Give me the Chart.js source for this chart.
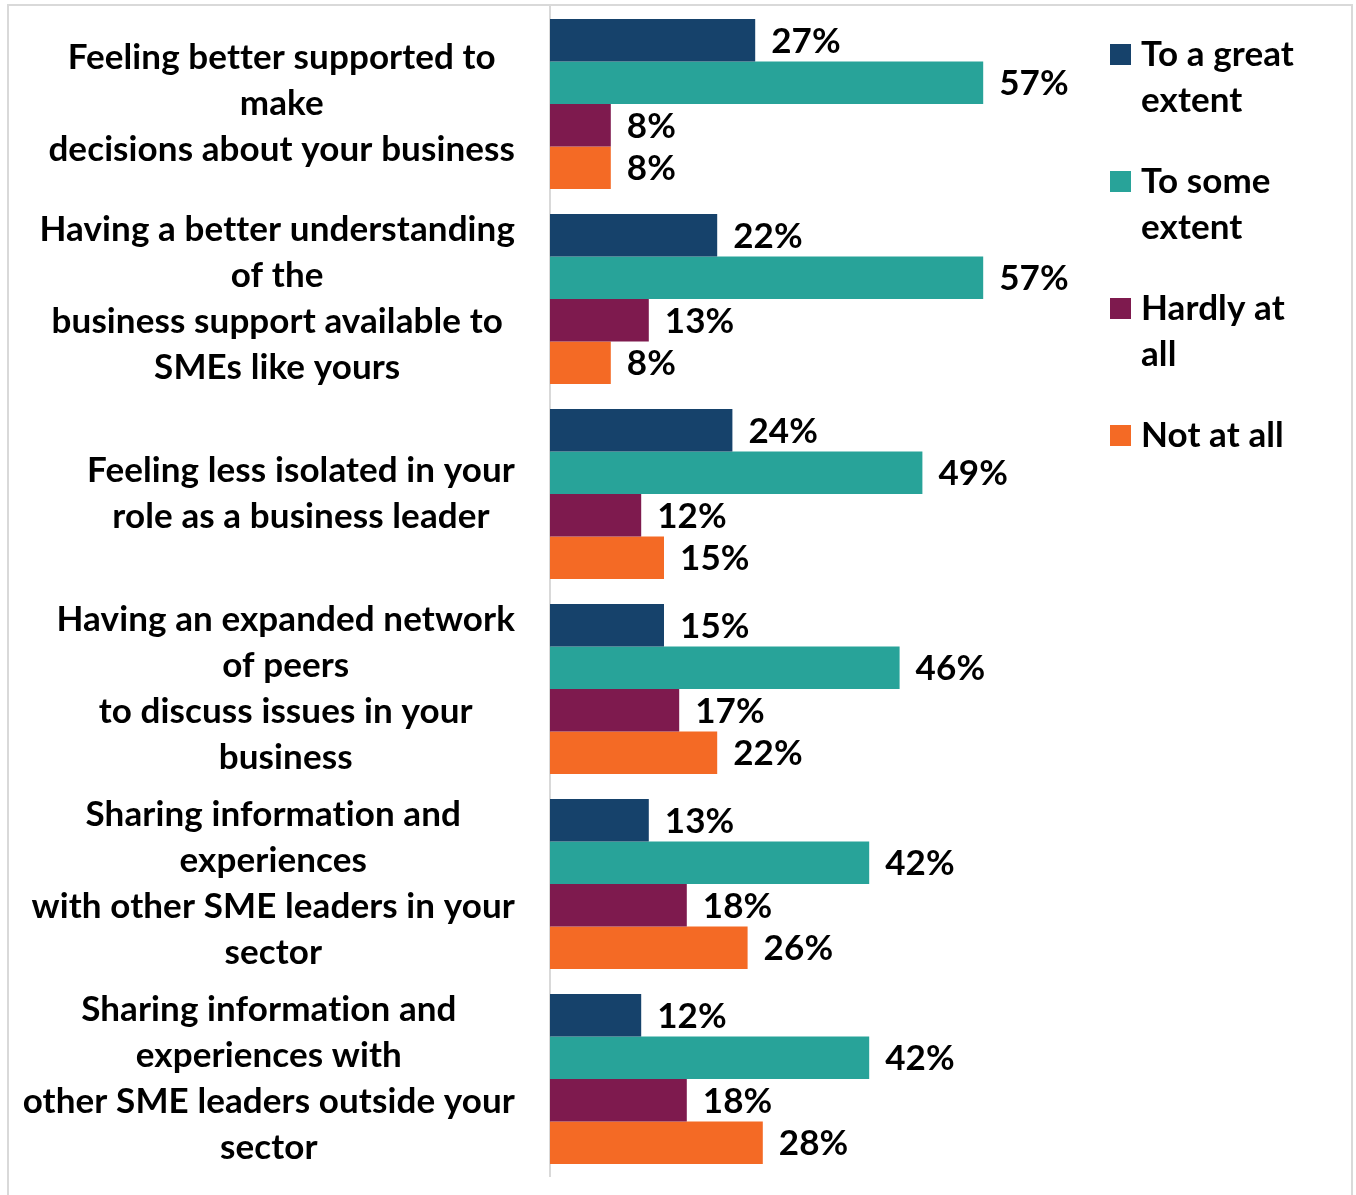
<!DOCTYPE html>
<html>
<head>
<meta charset="utf-8">
<script src="https://cdn.jsdelivr.net/npm/chart.js@4.4.1/dist/chart.umd.min.js"></script>
<style>
  body { margin: 0; background: #fff; }
  #wrap { width: 1356px; height: 1195px; }
</style>
</head>
<body>
<div id="wrap"><canvas id="impactChart" width="1356" height="1195"></canvas></div>
<script>
const categories = [
  ["Feeling better supported to", "make", "decisions about your business"],
  ["Having a better understanding", "of the", "business support available to", "SMEs like yours"],
  ["Feeling less isolated in your", "role as a business leader"],
  ["Having an expanded network", "of peers", "to discuss issues in your", "business"],
  ["Sharing information and", "experiences", "with other SME leaders in your", "sector"],
  ["Sharing information and", "experiences with", "other SME leaders outside your", "sector"]
];
const greatExtent = [27, 22, 24, 15, 13, 12];
const someExtent = [57, 57, 49, 46, 42, 42];
const hardlyAtAll = [8, 13, 12, 17, 18, 18];
const notAtAll = [8, 8, 15, 22, 26, 28];
const seriesNames = [["To a great", "extent"], ["To some", "extent"], ["Hardly at", "all"], ["Not at all"]];
const seriesColors = ["#16426B", "#28A399", "#7E1A4E", "#F46A25"];

const FONT = "bold 35px Lato";
const LINE_H = 46;

// a tiny letter spacing keeps Lato from joining "ti"
function setText(ctx) {
  ctx.font = FONT;
  ctx.fillStyle = '#000';
  ctx.textBaseline = 'middle';
  if ('letterSpacing' in ctx) ctx.letterSpacing = '0.1px';
}

// frame round the whole chart
const framePlugin = {
  id: 'frame',
  beforeDraw(chart) {
    const ctx = chart.ctx;
    ctx.save();
    ctx.strokeStyle = '#d9d9d9';
    ctx.lineWidth = 2;
    ctx.strokeRect(8, 5, 1344, 1200);
    ctx.restore();
  }
};

// multi-line category labels: block right-aligned, lines centred inside it
const catLabels = {
  id: 'catLabels',
  afterDraw(chart) {
    const ctx = chart.ctx;
    const y = chart.scales.y;
    ctx.save();
    setText(ctx);
    ctx.textAlign = 'center';
    const right = 515;
    categories.forEach((lines, i) => {
      const widest = Math.max(...lines.map(l => ctx.measureText(l).width));
      const cx = right - widest / 2;
      const cy = y.getPixelForValue(i);
      const top = cy - (lines.length - 1) * LINE_H / 2;
      lines.forEach((l, j) => ctx.fillText(l, cx, top + j * LINE_H));
    });
    ctx.restore();
  }
};

// value labels at the end of each bar
const valueLabels = {
  id: 'valueLabels',
  afterDatasetsDraw(chart) {
    const ctx = chart.ctx;
    ctx.save();
    setText(ctx);
    ctx.textAlign = 'left';
    chart.data.datasets.forEach((ds, di) => {
      chart.getDatasetMeta(di).data.forEach((bar, i) => {
        ctx.fillText(ds.data[i] + '%', bar.x + 16, bar.y + 1);
      });
    });
    ctx.restore();
  }
};

// legend on the right with wrapped names
const sideLegend = {
  id: 'sideLegend',
  afterDraw(chart) {
    const ctx = chart.ctx;
    ctx.save();
    setText(ctx);
    ctx.textAlign = 'left';
    let y = 55;
    seriesNames.forEach((lines, i) => {
      ctx.fillStyle = seriesColors[i];
      ctx.fillRect(1110, y - 11, 21, 21);
      ctx.fillStyle = '#000';
      lines.forEach((l, j) => ctx.fillText(l, 1141, y + j * LINE_H));
      y += 127;
    });
    ctx.restore();
  }
};

new Chart(document.getElementById('impactChart'), {
  type: 'bar',
  data: {
    labels: categories.map(c => c.join(' ')),
    datasets: [
      { label: seriesNames[0].join(' '), data: greatExtent, backgroundColor: seriesColors[0] },
      { label: seriesNames[1].join(' '), data: someExtent, backgroundColor: seriesColors[1] },
      { label: seriesNames[2].join(' '), data: hardlyAtAll, backgroundColor: seriesColors[2] },
      { label: seriesNames[3].join(' '), data: notAtAll, backgroundColor: seriesColors[3] }
    ]
  },
  options: {
    indexAxis: 'y',
    responsive: false,
    animation: false,
    devicePixelRatio: 1,
    layout: { padding: { left: 0, right: 46, top: 6.5, bottom: 18.5 } },
    datasets: { bar: { categoryPercentage: 170 / 195, barPercentage: 1 } },
    plugins: {
      legend: { display: false },
      tooltip: { enabled: false }
    },
    scales: {
      x: { display: false, min: 0, max: 100 },
      y: {
        display: true,
        ticks: { display: false },
        grid: { display: false, drawTicks: false },
        border: { display: true, color: '#d9d9d9', width: 2 },
        afterFit(scale) { scale.width = 550; }
      }
    }
  },
  plugins: [framePlugin, catLabels, valueLabels, sideLegend]
});
</script>
</body>
</html>
